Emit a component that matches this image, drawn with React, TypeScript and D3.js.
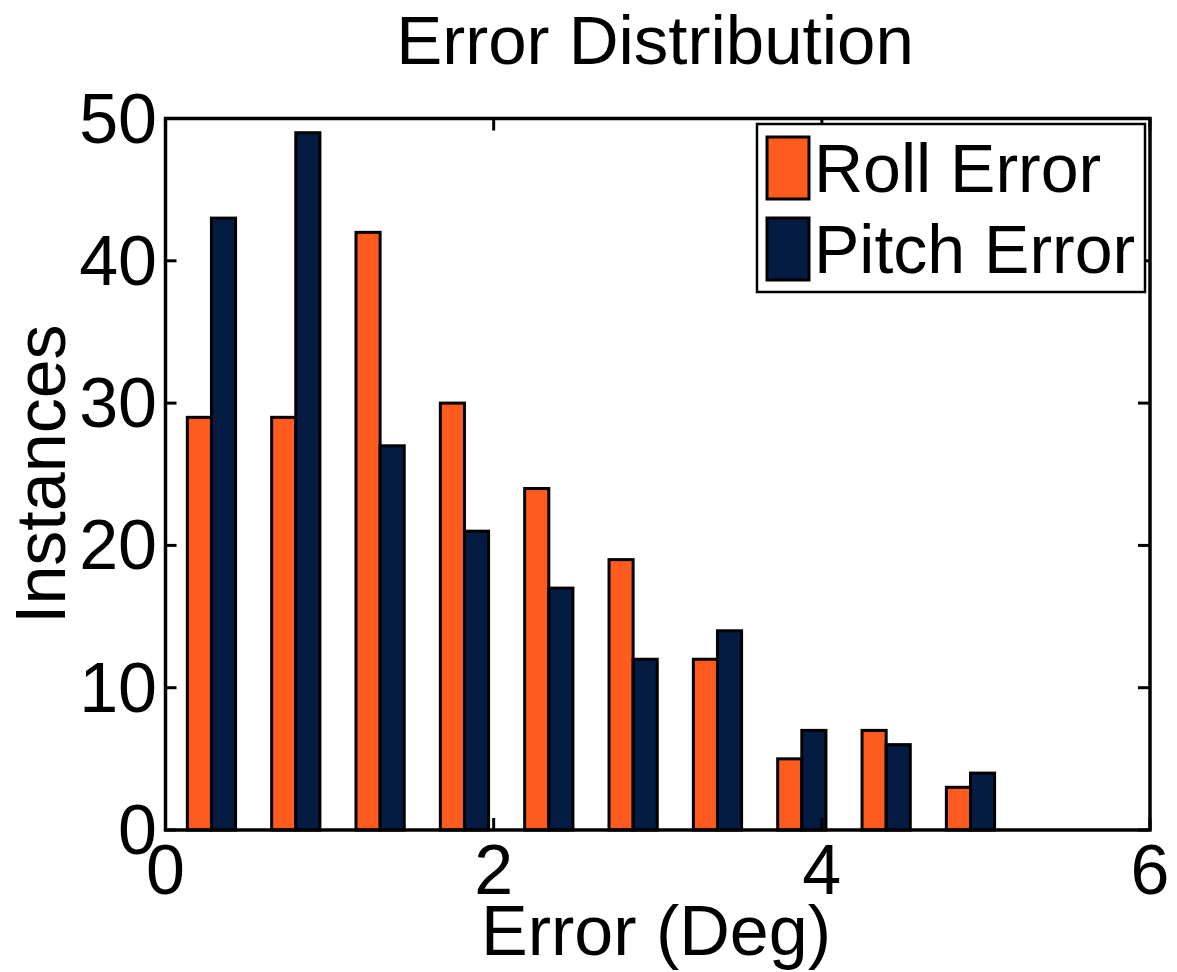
import React from "react";
import * as d3 from "d3";

const binCenters = [0.28, 0.794, 1.308, 1.822, 2.336, 2.85, 3.364, 3.878, 4.392, 4.906];
const rollValues = [29, 29, 42, 30, 24, 19, 12, 5, 7, 3];
const pitchValues = [43, 49, 27, 21, 17, 12, 14, 7, 6, 4];
const xTicks = [0, 2, 4, 6];
const yTicks = [0, 10, 20, 30, 40, 50];
const seriesNames = ["Roll Error", "Pitch Error"];
const seriesColors = ["#FF5B1F", "#041B42"];

const W = 1177;
const H = 972;
const left = 165.5;
const right = 1150;
const top = 118.5;
const bottom = 830;
const FONT = "'Liberation Sans', Arial, Helvetica, sans-serif";

export default function App() {
  const x = d3.scaleLinear().domain([0, 6]).range([left, right]);
  const y = d3.scaleLinear().domain([0, 50]).range([bottom, top]);
  const barW = 0.147;
  const series = [rollValues, pitchValues];

  return (
    <svg
      width={W}
      height={H}
      viewBox={`0 0 ${W} ${H}`}
      style={{ position: "absolute", left: 0, top: 0, background: "#fff" }}
      fontFamily={FONT}
    >
      <rect x={0} y={0} width={W} height={H} fill="#fff" />
      {/* bars */}
      {series.map((vals, si) =>
        vals.map((v, i) => {
          const x0 = si === 0 ? binCenters[i] - barW : binCenters[i];
          const x1 = x0 + barW;
          return (
            <rect
              key={`${si}-${i}`}
              x={x(x0)}
              y={y(v)}
              width={x(x1) - x(x0)}
              height={y(0) - y(v)}
              fill={seriesColors[si]}
              stroke="#000"
              strokeWidth={3}
            />
          );
        })
      )}
      {/* axes box */}
      <rect x={left} y={top} width={right - left} height={bottom - top} fill="none" stroke="#000" strokeWidth={3.5} />
      {/* y ticks */}
      {yTicks.map((t) => (
        <g key={`y${t}`}>
          <line x1={left} x2={left + 11} y1={y(t)} y2={y(t)} stroke="#000" strokeWidth={3} />
          <line x1={right} x2={right - 12} y1={y(t)} y2={y(t)} stroke="#000" strokeWidth={3} />
          <text x={157} y={y(t) + 24} textAnchor="end" fontSize={70} fill="#000">
            {t}
          </text>
        </g>
      ))}
      {/* x ticks */}
      {xTicks.map((t) => (
        <g key={`x${t}`}>
          <line x1={x(t)} x2={x(t)} y1={bottom} y2={bottom - 12} stroke="#000" strokeWidth={3} />
          <line x1={x(t)} x2={x(t)} y1={top} y2={top + 12} stroke="#000" strokeWidth={3} />
          <text x={x(t)} y={894} textAnchor="middle" fontSize={70} fill="#000">
            {t}
          </text>
        </g>
      ))}
      {/* title */}
      <text x={655} y={64} textAnchor="middle" fontSize={69} fill="#000">
        Error Distribution
      </text>
      {/* x label */}
      <text x={656} y={955} textAnchor="middle" fontSize={70} fill="#000">
        Error (Deg)
      </text>
      {/* y label */}
      <text
        transform={`translate(65, ${(top + bottom) / 2}) rotate(-90)`}
        textAnchor="middle"
        fontSize={70}
        fill="#000"
      >
        Instances
      </text>
      {/* legend */}
      <rect x={757} y={124} width={388} height={168} fill="#fff" stroke="#000" strokeWidth={2.5} />
      {seriesNames.map((name, i) => (
        <g key={name}>
          <rect
            x={767}
            y={137 + i * 81}
            width={42}
            height={62}
            fill={seriesColors[i]}
            stroke="#000"
            strokeWidth={3}
          />
          <text x={814} y={192 + i * 81} fontSize={68} fill="#000">
            {name}
          </text>
        </g>
      ))}
    </svg>
  );
}
